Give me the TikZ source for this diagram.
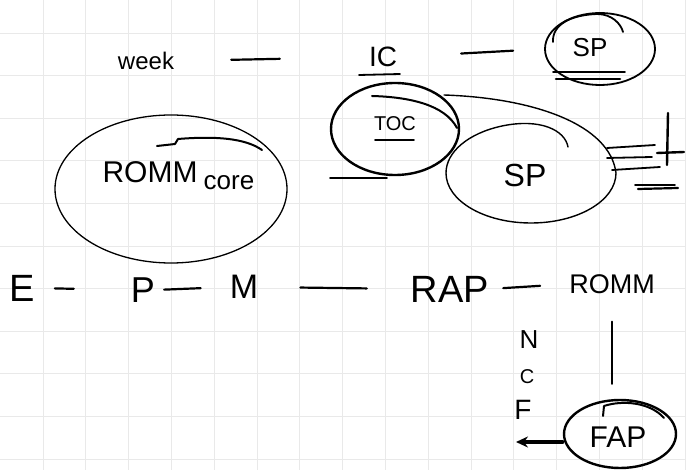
\documentclass[tikz,border=0pt]{standalone}
\usepackage{fontspec}
\setmainfont{Liberation Sans}
\usetikzlibrary{shapes.geometric,arrows.meta}
\definecolor{gridc}{HTML}{E9E9E9}
\begin{document}
\begin{tikzpicture}[x=1pt,y=-1pt,
  ink/.style={black,line cap=round,line join=round},
  lbl/.style={inner sep=0pt,text=black},
  conn/.style={ink,line width=2.2pt},
  stroke/.style={ink,line width=1.8pt},
  oval/.style={ellipse,ink,draw,inner sep=0pt}]
\fill[white] (0,0) rectangle (686,470);
\useasboundingbox (0,0) rectangle (686,470);
% grid
\foreach \i in {0,...,15} \draw[gridc,line width=0.9pt] ({43+42.8*\i},0) -- ({43+42.8*\i},470);
\foreach \j in {0,...,10} \draw[gridc,line width=0.9pt] (0,{33+42.6*\j}) -- (686,{33+42.6*\j});

% top row
\node[lbl,font={\fontsize{24pt}{24pt}\selectfont}] (week) at (146,61) {week};
\node[lbl,font={\fontsize{28pt}{28pt}\selectfont}] (IC) at (383,57) {IC};
\node[oval,line width=1.8pt,minimum width=110pt,minimum height=72pt] (SPt) at (600,49) {};
\node[lbl,font={\fontsize{26pt}{26pt}\selectfont}] (SPtxt) at (590,48) {SP};
\draw[stroke] (359,75) -- (400,74);
\draw[stroke] (553,72) -- (625,72);
\draw[ink,line width=2.6pt] (556,79) -- (620,79);
\draw[stroke] (553,42) .. controls (552,25) and (570,15) .. (597,14) .. controls (612,14) and (621,24) .. (623,32);
\draw[conn,shorten <=57pt,shorten >=89pt] (week.east) -- (IC.west);
\draw[conn,shorten <=64pt,shorten >=31pt] (IC.east) -- (SPt.west);

% TOC
\node[oval,line width=2.4pt,minimum width=128pt,minimum height=92pt] (TOCe) at (395,129) {};
\node[lbl,font={\fontsize{20pt}{20pt}\selectfont}] (TOC) at (395,124) {TOC};
\draw[stroke] (375,140) -- (414,140);
\draw[ink,line width=2pt] (372,96) .. controls (410,97) and (445,105) .. (457,128);
\draw[stroke] (330,178) -- (387,178);

% big SP
\node[ellipse,minimum width=170pt,minimum height=100pt,inner sep=0pt] (SPe) at (531,173) {};
\draw[ink,line width=1.4pt] (444,95) .. controls (535,98) and (610,125) .. (616,173)
  arc[start angle=0,end angle=250,x radius=85,y radius=50]
  .. controls (540,118) and (565,130) .. (568,147);
\node[lbl,font={\fontsize{32pt}{32pt}\selectfont}] (SP) at (525,175) {SP};
\draw[stroke] (607,148) -- (655,145);
\draw[stroke] (607,158) -- (652,157);
\draw[stroke] (612,170) -- (660,167);
\draw[ink,line width=2.4pt] (668,113) -- (667,165);
\draw[ink,line width=2.4pt] (657,153) -- (684,152);
\draw[stroke] (635,185) -- (675,185);
\draw[ink,line width=2.2pt] (638,189) -- (678,188);

% ROMM core
\node[oval,line width=1.3pt,minimum width=232pt,minimum height=148pt] (ROMMe) at (171,189) {};
\node[lbl,font={\fontsize{30pt}{30pt}\selectfont}] (ROMM) at (150,172) {ROMM};
\node[lbl,font={\fontsize{26pt}{26pt}\selectfont}] (core) at (229,183) {core};
\draw[ink,line width=2pt] (157,146) -- (175,144) -- (178,139) .. controls (215,136) and (245,138) .. (262,150);

% middle row
\node[lbl,font={\fontsize{38pt}{38pt}\selectfont}] (E) at (22,288) {E};
\node[lbl,font={\fontsize{36pt}{36pt}\selectfont}] (P) at (143,290) {P};
\node[lbl,font={\fontsize{34pt}{34pt}\selectfont}] (M) at (244,287) {M};
\node[lbl,font={\fontsize{38pt}{38pt}\selectfont}] (RAP) at (450,289) {RAP};
\node[lbl,font={\fontsize{27pt}{27pt}\selectfont}] (ROMM2) at (612,284) {ROMM};
\draw[conn,shorten <=20pt,shorten >=57pt] (E.east) -- (P.west);
\draw[conn,shorten <=9pt,shorten >=29pt] (P.east) -- (M.west);
\draw[conn,shorten <=42pt,shorten >=44pt] (M.east) -- (RAP.west);
\draw[conn,shorten <=14pt,shorten >=29pt] (RAP.east) -- (ROMM2.west);

% FAP
\node[oval,line width=2.4pt,minimum width=112pt,minimum height=68pt] (FAPe) at (620,434) {};
\node[lbl,font={\fontsize{30pt}{30pt}\selectfont}] (FAP) at (618,437) {FAP};
\draw[ink,line width=2pt] (603,416) -- (604,406) .. controls (622,400) and (650,402) .. (664,418);
\draw[conn,shorten <=28pt,shorten >=15pt] (ROMM2.south) -- (ROMM2.south |- FAPe.north);
\node[lbl,font={\fontsize{26pt}{26pt}\selectfont}] (N) at (529,340) {N};
\node[lbl,font={\fontsize{20pt}{20pt}\selectfont}] (C) at (527,377) {C};
\node[lbl,font={\fontsize{28pt}{28pt}\selectfont}] (F) at (523,410) {F};
\coordinate (ncf) at (516,442);
\draw[ink,line width=3.2pt,-{Stealth[length=12pt,width=11pt]}] ([yshift=-8pt]FAPe.west) -- (ncf);
\end{tikzpicture}
\end{document}
